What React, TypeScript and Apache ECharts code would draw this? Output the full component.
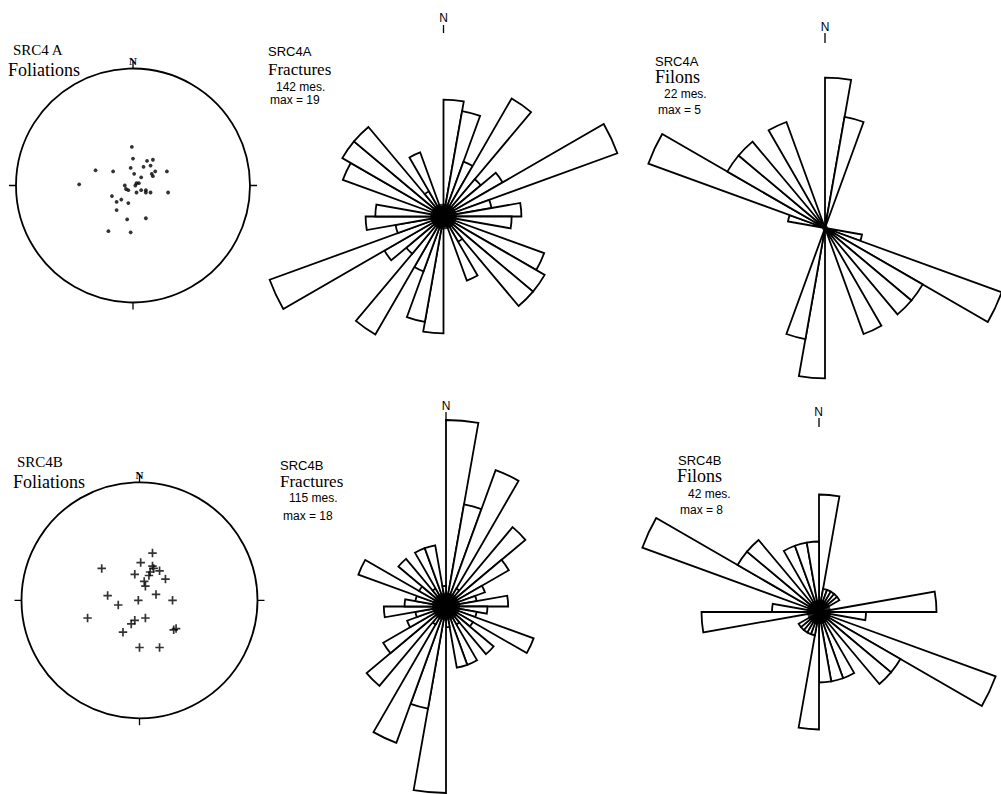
import React, { useEffect, useRef } from 'react';
import * as echarts from 'echarts';

// ---- Rose diagrams: number of measures per 10° sector from 0° to 180° (drawn mirrored) ----
const sectorStarts = [0, 10, 20, 30, 40, 50, 60, 70, 80, 90, 100, 110, 120, 130, 140, 150, 160, 170];
const fracturesA = [12, 11, 6, 14, 5, 7, 19, 5, 8, 7, 1, 11, 12, 12, 3, 7, 1, 1]; // 142 mes.
const filonsA = [4, 3, 0, 0, 0, 0, 0, 0, 0, 0, 1, 5, 3, 3, 0, 3, 0, 0]; // 22 mes.
const fracturesB = [18, 10, 14, 2, 10, 7, 4, 3, 6, 4, 3, 9, 3, 6, 2, 6, 6, 2]; // 115 mes.
const filonsB = [5, 1, 1, 1, 1, 1, 0, 0, 5, 2, 0, 8, 4, 4, 0, 3, 3, 3]; // 42 mes.

// ---- Stereonets: poles of foliations as (east, north), in net radii ----
const foliationsA: [number, number][] = [
  [-0.01, 0.33], [0.0, 0.23], [0.12, 0.21], [0.17, 0.22], [0.09, 0.16], [0.15, 0.17],
  [-0.32, 0.13], [-0.17, 0.12], [-0.02, 0.15], [0.19, 0.12], [0.16, 0.1], [0.17, 0.08],
  [0.29, 0.12], [0.01, 0.1], [0.07, 0.07], [0.03, 0.02], [0.02, 0.0], [0.05, 0.02],
  [-0.07, 0.0], [-0.06, -0.03], [-0.04, -0.04], [-0.46, 0.01], [0.03, -0.06], [0.07, -0.04],
  [0.11, -0.06], [0.11, -0.04], [0.15, -0.06], [0.3, -0.06], [-0.18, -0.09], [-0.1, -0.12],
  [-0.14, -0.14], [-0.04, -0.15], [-0.14, -0.21], [0.11, -0.28], [-0.05, -0.29],
  [-0.21, -0.39], [-0.02, -0.4],
];
const foliationsB: [number, number][] = [
  [0.11, 0.4], [0.01, 0.32], [-0.32, 0.27], [0.11, 0.29], [0.12, 0.27], [0.17, 0.25],
  [-0.04, 0.22], [0.09, 0.24], [0.08, 0.21], [0.22, 0.18], [0.04, 0.16], [0.05, 0.12],
  [-0.27, 0.04], [0.14, 0.05], [-0.18, -0.04], [-0.01, 0.0], [0.28, 0.0], [-0.44, -0.15],
  [0.05, -0.15], [-0.04, -0.17], [-0.07, -0.2], [-0.14, -0.27], [0.29, -0.25], [0.31, -0.24],
  [0.0, -0.4], [0.17, -0.4],
];

// ---- Texts ----
const roseTitlesA = ['SRC4A', 'Fractures', '142 mes.', 'max = 19'];
const roseTitlesA2 = ['SRC4A', 'Filons', '22 mes.', 'max = 5'];
const roseTitlesB = ['SRC4B', 'Fractures', '115 mes.', 'max = 18'];
const roseTitlesB2 = ['SRC4B', 'Filons', '42 mes.', 'max = 8'];
const netTitlesA = ['SRC4 A', 'Foliations'];
const netTitlesB = ['SRC4B', 'Foliations'];
const northLabel = 'N';

const SERIF = '"Liberation Serif", "Times New Roman", serif';
const SANS = '"Liberation Sans", Arial, sans-serif';
const PLUS = 'path://M4,0H6V4H10V6H6V10H4V6H0V4H4Z';

function buildOption() {
  const cats = [...sectorStarts, ...sectorStarts.map((a) => a + 180)].map((a) => a + '°');

  const roses = [
    { data: fracturesA, max: 19, cx: 443.5, cy: 216.5, r: 185, disk: 13 },
    { data: filonsA, max: 5, cx: 825, cy: 228, r: 188, disk: 3 },
    { data: fracturesB, max: 18, cx: 446, cy: 606.5, r: 186.5, disk: 14 },
    { data: filonsB, max: 8, cx: 819, cy: 612, r: 188, disk: 12 },
  ];
  const nets = [
    { pts: foliationsA, cx: 133, cy: 185.5, r: 117, symbol: 'circle', size: 3.8 },
    { pts: foliationsB, cx: 139.5, cy: 600.3, r: 118, symbol: PLUS, size: 8.5 },
  ];

  const polar: any[] = [];
  const angleAxis: any[] = [];
  const radiusAxis: any[] = [];
  const grid: any[] = [];
  const xAxis: any[] = [];
  const yAxis: any[] = [];
  const series: any[] = [];

  roses.forEach((d, i) => {
    polar.push({ center: [d.cx, d.cy], radius: d.r });
    angleAxis.push({
      polarIndex: i,
      type: 'category',
      data: cats,
      startAngle: 90,
      clockwise: true,
      boundaryGap: true,
      axisLine: { show: false },
      axisTick: { show: false },
      axisLabel: { show: false },
      splitLine: { show: false },
    });
    radiusAxis.push({
      polarIndex: i,
      type: 'value',
      min: 0,
      max: d.max,
      axisLine: { show: false },
      axisTick: { show: false },
      axisLabel: { show: false },
      splitLine: { show: false },
    });
    series.push({
      type: 'bar',
      coordinateSystem: 'polar',
      polarIndex: i,
      data: [...d.data, ...d.data],
      barCategoryGap: '0%',
      silent: true,
      itemStyle: { color: '#ffffff', borderColor: '#000000', borderWidth: 1.8 },
    });
    series.push({
      type: 'scatter',
      coordinateSystem: 'polar',
      polarIndex: i,
      data: [[0, 0]],
      symbol: 'circle',
      symbolSize: d.disk * 2,
      silent: true,
      z: 5,
      itemStyle: { color: '#000000' },
    });
  });

  nets.forEach((d, j) => {
    const pi = roses.length + j;
    polar.push({ center: [d.cx, d.cy], radius: d.r });
    angleAxis.push({
      polarIndex: pi,
      type: 'value',
      min: 0,
      max: 360,
      interval: 90,
      startAngle: 90,
      clockwise: true,
      axisLine: { show: true, lineStyle: { color: '#000', width: 1.8 } },
      axisTick: { show: true, length: 7, lineStyle: { color: '#000', width: 1.3 } },
      axisLabel: {
        show: true,
        margin: 2,
        color: '#000',
        fontSize: 11,
        fontWeight: 'bold',
        fontFamily: SERIF,
        formatter: (v: number) => (v === 0 ? northLabel : ''),
      },
      splitLine: { show: false },
    });
    radiusAxis.push({
      polarIndex: pi,
      type: 'value',
      min: 0,
      max: 1,
      axisLine: { show: false },
      axisTick: { show: false },
      axisLabel: { show: false },
      splitLine: { show: false },
    });
    grid.push({ left: d.cx - d.r, top: d.cy - d.r, width: 2 * d.r, height: 2 * d.r, show: false });
    xAxis.push({ gridIndex: j, type: 'value', min: -1, max: 1, show: false });
    yAxis.push({ gridIndex: j, type: 'value', min: -1, max: 1, show: false });
    series.push({
      type: 'scatter',
      xAxisIndex: j,
      yAxisIndex: j,
      data: d.pts,
      symbol: d.symbol,
      symbolSize: d.size,
      silent: true,
      itemStyle: { color: '#000000' },
    });
  });

  const txt = (text: string, x: number, y: number, size: number, family: string, align = 'left') => ({
    type: 'text',
    x,
    y,
    silent: true,
    style: {
      text,
      fill: '#000',
      fontSize: size,
      fontFamily: family,
      textAlign: align,
      textVerticalAlign: 'middle',
      align,
      verticalAlign: 'middle',
    },
  });
  const tick = (x: number, y1: number, y2: number) => ({
    type: 'line',
    silent: true,
    shape: { x1: x, y1, x2: x, y2 },
    style: { stroke: '#000', lineWidth: 1.3 },
  });

  const graphic: any[] = [
    // stereonet titles
    txt(netTitlesA[0], 13, 50, 15, SERIF),
    txt(netTitlesA[1], 8, 70, 18, SERIF),
    txt(netTitlesB[0], 17, 462, 15, SERIF),
    txt(netTitlesB[1], 13, 482, 18, SERIF),
    // rose titles
    txt(roseTitlesA[0], 268, 51, 13, SANS),
    txt(roseTitlesA[1], 268, 69, 17, SERIF),
    txt(roseTitlesA[2], 276, 86.5, 12, SANS),
    txt(roseTitlesA[3], 270, 100, 12, SANS),
    txt(roseTitlesA2[0], 655, 61, 13, SANS),
    txt(roseTitlesA2[1], 655, 77, 18, SERIF),
    txt(roseTitlesA2[2], 664, 94, 12, SANS),
    txt(roseTitlesA2[3], 658, 110, 12, SANS),
    txt(roseTitlesB[0], 280, 465, 13, SANS),
    txt(roseTitlesB[1], 280, 481, 17, SERIF),
    txt(roseTitlesB[2], 289, 498, 12, SANS),
    txt(roseTitlesB[3], 283, 516, 12, SANS),
    txt(roseTitlesB2[0], 678, 460, 13, SANS),
    txt(roseTitlesB2[1], 677, 476, 18, SERIF),
    txt(roseTitlesB2[2], 688, 494, 12, SANS),
    txt(roseTitlesB2[3], 680, 510, 12, SANS),
    // rose north marks
    txt(northLabel, 443.5, 18, 12, SANS, 'center'),
    tick(443.5, 25, 33),
    txt(northLabel, 825, 27, 12, SANS, 'center'),
    tick(825, 33, 43),
    txt(northLabel, 446, 406, 12, SANS, 'center'),
    tick(446, 412, 421),
    txt(northLabel, 818.5, 412, 12, SANS, 'center'),
    tick(819, 418, 427),
  ];

  return {
    animation: false,
    backgroundColor: '#ffffff',
    polar,
    angleAxis,
    radiusAxis,
    grid,
    xAxis,
    yAxis,
    series,
    graphic,
  };
}

export default function App() {
  const ref = useRef<HTMLDivElement>(null);
  useEffect(() => {
    if (!ref.current) return;
    const chart = echarts.init(ref.current, undefined, { renderer: 'svg' });
    chart.setOption(buildOption() as any);
    return () => chart.dispose();
  }, []);
  return (
    <div
      ref={ref}
      style={{ position: 'absolute', left: 0, top: 0, width: 1001, height: 794, background: '#fff' }}
    />
  );
}
